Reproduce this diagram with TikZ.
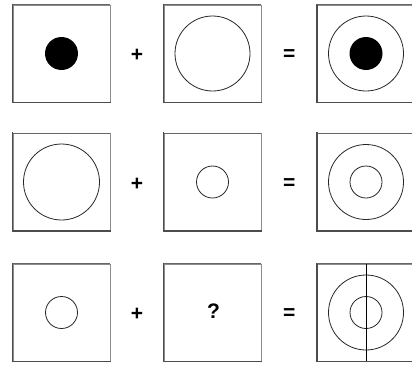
\documentclass[tikz,border=0pt]{standalone}
\usepackage{fontspec}
\setmainfont{Liberation Sans}
\usetikzlibrary{calc}
\begin{document}
\begin{tikzpicture}[x=1pt,y=-1pt,
  panel/.style={draw=black!45,line width=0.7pt,minimum width=97pt,minimum height=97pt,inner sep=0pt,fill=white},
  ring/.style={circle,draw=black!85,line width=0.8pt,inner sep=0pt},
  disc/.style={circle,fill=black,inner sep=0pt,minimum size=33pt},
  op/.style={font=\bfseries\fontsize{21}{21}\selectfont,inner sep=0pt}]
\useasboundingbox (0,0) rectangle (412,367);
% panels
\foreach \r/\y in {1/53.5,2/182,3/312.5}{
  \foreach \c/\x in {1/61.5,2/212.5,3/366}{
    \node[panel] (b\r\c) at (\x,\y) {};
    \draw[black!70,line width=1.6pt,line cap=rect] (b\r\c.north west) -- (b\r\c.south west) -- (b\r\c.south east);
    \draw[black!60,line width=1pt] (b\r\c.north west) -- (b\r\c.north east);
  }
}
% row 1
\node[disc] (d11) at (b11) {};
\node[ring,minimum size=75pt] (c12) at (b12) {};
\node[ring,minimum size=75pt] (c13) at (b13) {};
\node[disc] (d13) at (b13) {};
% row 2
\node[ring,minimum size=76pt] (c21) at (b21) {};
\node[ring,minimum size=32pt] (c22) at (b22) {};
\node[ring,minimum size=75pt] (c23a) at (b23) {};
\node[ring,minimum size=32pt] (c23b) at (b23) {};
% row 3
\node[ring,minimum size=32pt] (c31) at (b31) {};
\node[op] (q) at ($(b32)+(1,-1)$) {?};
\node[ring,minimum size=75pt] (c33a) at (b33) {};
\node[ring,minimum size=32pt] (c33b) at (b33) {};
\draw[black,line width=0.9pt] (b33.north) -- (b33.south);
% operators
\foreach \r in {1,2,3}{
  \node[op] (p\r) at ($(b\r1)!0.5!(b\r2)+(0,2)$) {+};
  \node[op] (e\r) at ($(b\r2)!0.5!(b\r3)+(0,2)$) {=};
}
\end{tikzpicture}
\end{document}
